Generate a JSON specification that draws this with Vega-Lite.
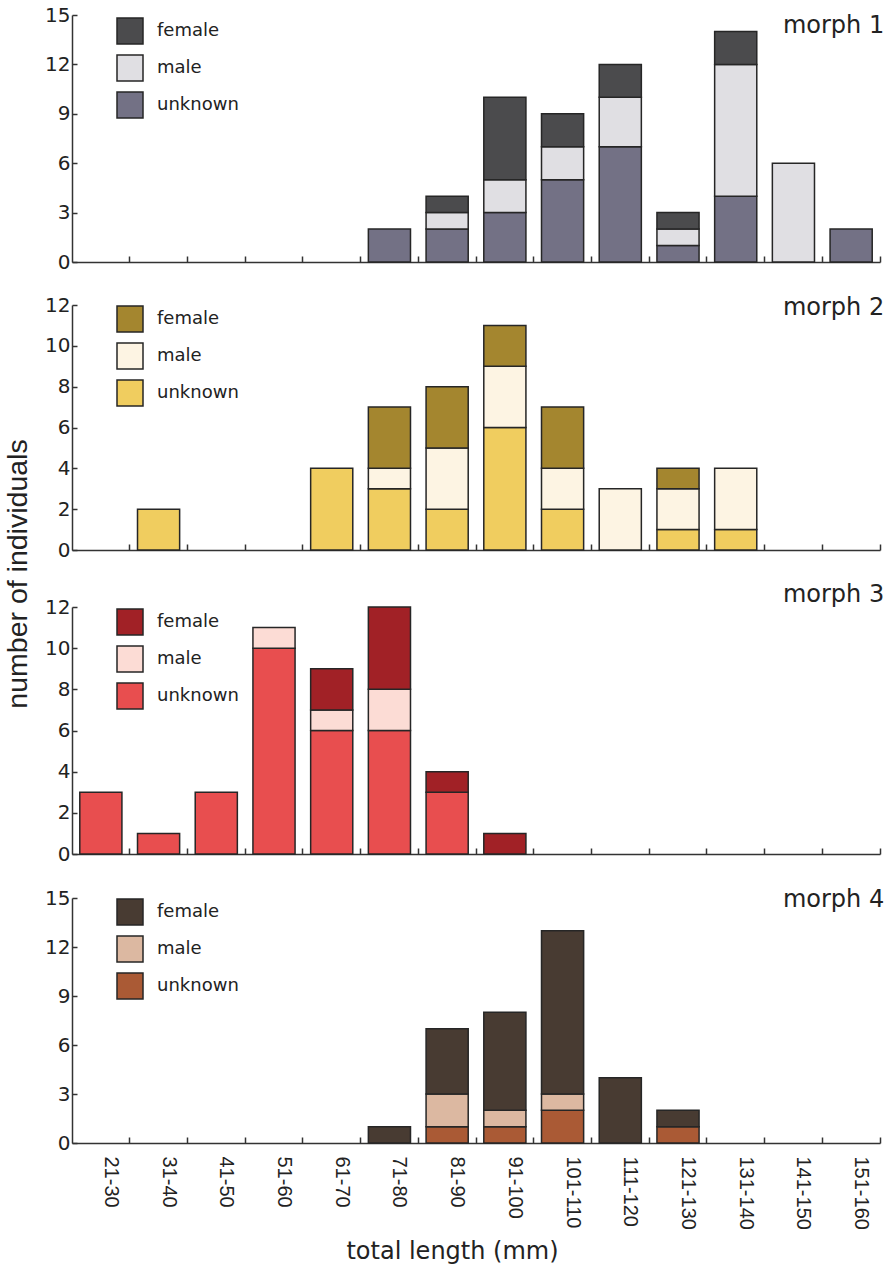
{
  "$schema": "https://vega.github.io/schema/vega-lite/v6.json",
  "background": "white",
  "padding": {"left": 4, "top": 5, "right": 2, "bottom": 2},
  "spacing": 23,
  "title": {"text": "number of individuals", "orient": "left", "anchor": "middle", "font": "Liberation Sans", "fontSize": 28.5, "fontWeight": "normal", "color": "#222222", "offset": 12, "dx": 60},
  "data": {"values": [
    {"morph": "morph 1", "length": "71-80", "sex": "unknown", "n": 2},
    {"morph": "morph 1", "length": "81-90", "sex": "unknown", "n": 2},
    {"morph": "morph 1", "length": "81-90", "sex": "male", "n": 1},
    {"morph": "morph 1", "length": "81-90", "sex": "female", "n": 1},
    {"morph": "morph 1", "length": "91-100", "sex": "unknown", "n": 3},
    {"morph": "morph 1", "length": "91-100", "sex": "male", "n": 2},
    {"morph": "morph 1", "length": "91-100", "sex": "female", "n": 5},
    {"morph": "morph 1", "length": "101-110", "sex": "unknown", "n": 5},
    {"morph": "morph 1", "length": "101-110", "sex": "male", "n": 2},
    {"morph": "morph 1", "length": "101-110", "sex": "female", "n": 2},
    {"morph": "morph 1", "length": "111-120", "sex": "unknown", "n": 7},
    {"morph": "morph 1", "length": "111-120", "sex": "male", "n": 3},
    {"morph": "morph 1", "length": "111-120", "sex": "female", "n": 2},
    {"morph": "morph 1", "length": "121-130", "sex": "unknown", "n": 1},
    {"morph": "morph 1", "length": "121-130", "sex": "male", "n": 1},
    {"morph": "morph 1", "length": "121-130", "sex": "female", "n": 1},
    {"morph": "morph 1", "length": "131-140", "sex": "unknown", "n": 4},
    {"morph": "morph 1", "length": "131-140", "sex": "male", "n": 8},
    {"morph": "morph 1", "length": "131-140", "sex": "female", "n": 2},
    {"morph": "morph 1", "length": "141-150", "sex": "male", "n": 6},
    {"morph": "morph 1", "length": "151-160", "sex": "unknown", "n": 2},

    {"morph": "morph 2", "length": "31-40", "sex": "unknown", "n": 2},
    {"morph": "morph 2", "length": "61-70", "sex": "unknown", "n": 4},
    {"morph": "morph 2", "length": "71-80", "sex": "unknown", "n": 3},
    {"morph": "morph 2", "length": "71-80", "sex": "male", "n": 1},
    {"morph": "morph 2", "length": "71-80", "sex": "female", "n": 3},
    {"morph": "morph 2", "length": "81-90", "sex": "unknown", "n": 2},
    {"morph": "morph 2", "length": "81-90", "sex": "male", "n": 3},
    {"morph": "morph 2", "length": "81-90", "sex": "female", "n": 3},
    {"morph": "morph 2", "length": "91-100", "sex": "unknown", "n": 6},
    {"morph": "morph 2", "length": "91-100", "sex": "male", "n": 3},
    {"morph": "morph 2", "length": "91-100", "sex": "female", "n": 2},
    {"morph": "morph 2", "length": "101-110", "sex": "unknown", "n": 2},
    {"morph": "morph 2", "length": "101-110", "sex": "male", "n": 2},
    {"morph": "morph 2", "length": "101-110", "sex": "female", "n": 3},
    {"morph": "morph 2", "length": "111-120", "sex": "male", "n": 3},
    {"morph": "morph 2", "length": "121-130", "sex": "unknown", "n": 1},
    {"morph": "morph 2", "length": "121-130", "sex": "male", "n": 2},
    {"morph": "morph 2", "length": "121-130", "sex": "female", "n": 1},
    {"morph": "morph 2", "length": "131-140", "sex": "unknown", "n": 1},
    {"morph": "morph 2", "length": "131-140", "sex": "male", "n": 3},

    {"morph": "morph 3", "length": "21-30", "sex": "unknown", "n": 3},
    {"morph": "morph 3", "length": "31-40", "sex": "unknown", "n": 1},
    {"morph": "morph 3", "length": "41-50", "sex": "unknown", "n": 3},
    {"morph": "morph 3", "length": "51-60", "sex": "unknown", "n": 10},
    {"morph": "morph 3", "length": "51-60", "sex": "male", "n": 1},
    {"morph": "morph 3", "length": "61-70", "sex": "unknown", "n": 6},
    {"morph": "morph 3", "length": "61-70", "sex": "male", "n": 1},
    {"morph": "morph 3", "length": "61-70", "sex": "female", "n": 2},
    {"morph": "morph 3", "length": "71-80", "sex": "unknown", "n": 6},
    {"morph": "morph 3", "length": "71-80", "sex": "male", "n": 2},
    {"morph": "morph 3", "length": "71-80", "sex": "female", "n": 4},
    {"morph": "morph 3", "length": "81-90", "sex": "unknown", "n": 3},
    {"morph": "morph 3", "length": "81-90", "sex": "female", "n": 1},
    {"morph": "morph 3", "length": "91-100", "sex": "female", "n": 1},

    {"morph": "morph 4", "length": "71-80", "sex": "female", "n": 1},
    {"morph": "morph 4", "length": "81-90", "sex": "unknown", "n": 1},
    {"morph": "morph 4", "length": "81-90", "sex": "male", "n": 2},
    {"morph": "morph 4", "length": "81-90", "sex": "female", "n": 4},
    {"morph": "morph 4", "length": "91-100", "sex": "unknown", "n": 1},
    {"morph": "morph 4", "length": "91-100", "sex": "male", "n": 1},
    {"morph": "morph 4", "length": "91-100", "sex": "female", "n": 6},
    {"morph": "morph 4", "length": "101-110", "sex": "unknown", "n": 2},
    {"morph": "morph 4", "length": "101-110", "sex": "male", "n": 1},
    {"morph": "morph 4", "length": "101-110", "sex": "female", "n": 10},
    {"morph": "morph 4", "length": "111-120", "sex": "female", "n": 4},
    {"morph": "morph 4", "length": "121-130", "sex": "unknown", "n": 1},
    {"morph": "morph 4", "length": "121-130", "sex": "female", "n": 1}
  ]},
  "resolve": {"scale": {"color": "independent", "y": "independent", "x": "independent"}, "legend": {"color": "independent"}},
  "vconcat": [
    {
      "width": 808, "height": 247,
      "layer": [
        {
          "transform": [{"filter": "datum.morph == 'morph 1'"}],
          "mark": {"type": "bar", "stroke": "#262626", "strokeWidth": 1.5},
          "encoding": {
            "x": {"field": "length", "type": "nominal", "sort": null,
              "scale": {"domain": ["21-30","31-40","41-50","51-60","61-70","71-80","81-90","91-100","101-110","111-120","121-130","131-140","141-150","151-160"], "paddingInner": 0.27, "paddingOuter": 0.135},
              "axis": {"labels": false, "title": null}},
            "y": {"field": "n", "type": "quantitative", "scale": {"domain": [0, 15], "nice": false},
              "axis": {"values": [0, 3, 6, 9, 12, 15], "title": null}},
            "color": {"field": "sex", "type": "nominal",
              "scale": {"domain": ["female", "male", "unknown"], "range": ["#4b4b4d", "#e0dfe3", "#737185"]},
              "legend": {"orient": "none", "legendX": 44, "legendY": 2}},
            "order": {"field": "sex", "sort": "descending"}
          }
        },
        {
          "data": {"values": [{"label": "morph 1"}]},
          "mark": {"type": "text", "align": "right", "baseline": "alphabetic", "font": "DejaVu Sans", "fontSize": 24, "color": "#222222", "dx": 12},
          "encoding": {
            "x": {"datum": "151-160", "type": "nominal", "bandPosition": 1},
            "y": {"datum": 13.9, "type": "quantitative"},
            "text": {"field": "label"}
          }
        }
      ]
    },
    {
      "width": 808, "height": 245,
      "layer": [
        {
          "transform": [{"filter": "datum.morph == 'morph 2'"}],
          "mark": {"type": "bar", "stroke": "#262626", "strokeWidth": 1.5},
          "encoding": {
            "x": {"field": "length", "type": "nominal", "sort": null,
              "scale": {"domain": ["21-30","31-40","41-50","51-60","61-70","71-80","81-90","91-100","101-110","111-120","121-130","131-140","141-150","151-160"], "paddingInner": 0.27, "paddingOuter": 0.135},
              "axis": {"labels": false, "title": null}},
            "y": {"field": "n", "type": "quantitative", "scale": {"domain": [0, 12], "nice": false},
              "axis": {"values": [0, 2, 4, 6, 8, 10, 12], "title": null}},
            "color": {"field": "sex", "type": "nominal",
              "scale": {"domain": ["female", "male", "unknown"], "range": ["#a4862f", "#fdf4e3", "#f0cd5f"]},
              "legend": {"orient": "none", "legendX": 44, "legendY": 0}},
            "order": {"field": "sex", "sort": "descending"}
          }
        },
        {
          "data": {"values": [{"label": "morph 2"}]},
          "mark": {"type": "text", "align": "right", "baseline": "alphabetic", "font": "DejaVu Sans", "fontSize": 24, "color": "#222222", "dx": 12},
          "encoding": {
            "x": {"datum": "151-160", "type": "nominal", "bandPosition": 1},
            "y": {"datum": 11.5, "type": "quantitative"},
            "text": {"field": "label"}
          }
        }
      ]
    },
    {
      "width": 808, "height": 247,
      "layer": [
        {
          "transform": [{"filter": "datum.morph == 'morph 3'"}],
          "mark": {"type": "bar", "stroke": "#262626", "strokeWidth": 1.5},
          "encoding": {
            "x": {"field": "length", "type": "nominal", "sort": null,
              "scale": {"domain": ["21-30","31-40","41-50","51-60","61-70","71-80","81-90","91-100","101-110","111-120","121-130","131-140","141-150","151-160"], "paddingInner": 0.27, "paddingOuter": 0.135},
              "axis": {"labels": false, "title": null}},
            "y": {"field": "n", "type": "quantitative", "scale": {"domain": [0, 12], "nice": false},
              "axis": {"values": [0, 2, 4, 6, 8, 10, 12], "title": null}},
            "color": {"field": "sex", "type": "nominal",
              "scale": {"domain": ["female", "male", "unknown"], "range": ["#a12126", "#fcdcd5", "#e84e4f"]},
              "legend": {"orient": "none", "legendX": 44, "legendY": 1}},
            "order": {"field": "sex", "sort": "descending"}
          }
        },
        {
          "data": {"values": [{"label": "morph 3"}]},
          "mark": {"type": "text", "align": "right", "baseline": "alphabetic", "font": "DejaVu Sans", "fontSize": 24, "color": "#222222", "dx": 12},
          "encoding": {
            "x": {"datum": "151-160", "type": "nominal", "bandPosition": 1},
            "y": {"datum": 12.24, "type": "quantitative"},
            "text": {"field": "label"}
          }
        }
      ]
    },
    {
      "width": 808, "height": 245,
      "layer": [
        {
          "transform": [{"filter": "datum.morph == 'morph 4'"}],
          "mark": {"type": "bar", "stroke": "#262626", "strokeWidth": 1.5},
          "encoding": {
            "x": {"field": "length", "type": "nominal", "sort": null,
              "scale": {"domain": ["21-30","31-40","41-50","51-60","61-70","71-80","81-90","91-100","101-110","111-120","121-130","131-140","141-150","151-160"], "paddingInner": 0.27, "paddingOuter": 0.135},
              "axis": {"labels": true, "labelAngle": 90, "labelFont": "Liberation Sans", "labelFontSize": 20, "labelPadding": 19, "labelOffset": 10, "labelColor": "#222222",
                "title": "total length (mm)", "titleFont": "DejaVu Sans", "titleFontSize": 24, "titleFontWeight": "normal", "titleColor": "#222222",
                "titleX": 380, "titleY": 115, "titleAlign": "center", "titleBaseline": "alphabetic"}},
            "y": {"field": "n", "type": "quantitative", "scale": {"domain": [0, 15], "nice": false},
              "axis": {"values": [0, 3, 6, 9, 12, 15], "title": null}},
            "color": {"field": "sex", "type": "nominal",
              "scale": {"domain": ["female", "male", "unknown"], "range": ["#483b32", "#dcb8a1", "#aa5a35"]},
              "legend": {"orient": "none", "legendX": 44, "legendY": 0}},
            "order": {"field": "sex", "sort": "descending"}
          }
        },
        {
          "data": {"values": [{"label": "morph 4"}]},
          "mark": {"type": "text", "align": "right", "baseline": "alphabetic", "font": "DejaVu Sans", "fontSize": 24, "color": "#222222", "dx": 12},
          "encoding": {
            "x": {"datum": "151-160", "type": "nominal", "bandPosition": 1},
            "y": {"datum": 14.45, "type": "quantitative"},
            "text": {"field": "label"}
          }
        }
      ]
    }
  ],
  "config": {
    "view": {"stroke": null},
    "axis": {"grid": false, "domainColor": "#333333", "domainWidth": 1.5, "tickColor": "#333333", "tickWidth": 1.5,
      "labelFont": "DejaVu Sans", "labelFontSize": 20, "labelColor": "#222222"},
    "axisX": {"tickSize": -6, "bandPosition": 1.185, "labelPadding": 19},
    "axisY": {"tickSize": -5, "labelPadding": 7},
    "legend": {"title": null, "symbolType": "square", "symbolSize": 676, "symbolStrokeColor": "#262626", "symbolStrokeWidth": 1.5,
      "symbolOpacity": 1, "labelFont": "DejaVu Sans", "labelFontSize": 18, "labelColor": "#222222", "labelOffset": 13,
      "rowPadding": 5, "padding": 0}
  }
}
